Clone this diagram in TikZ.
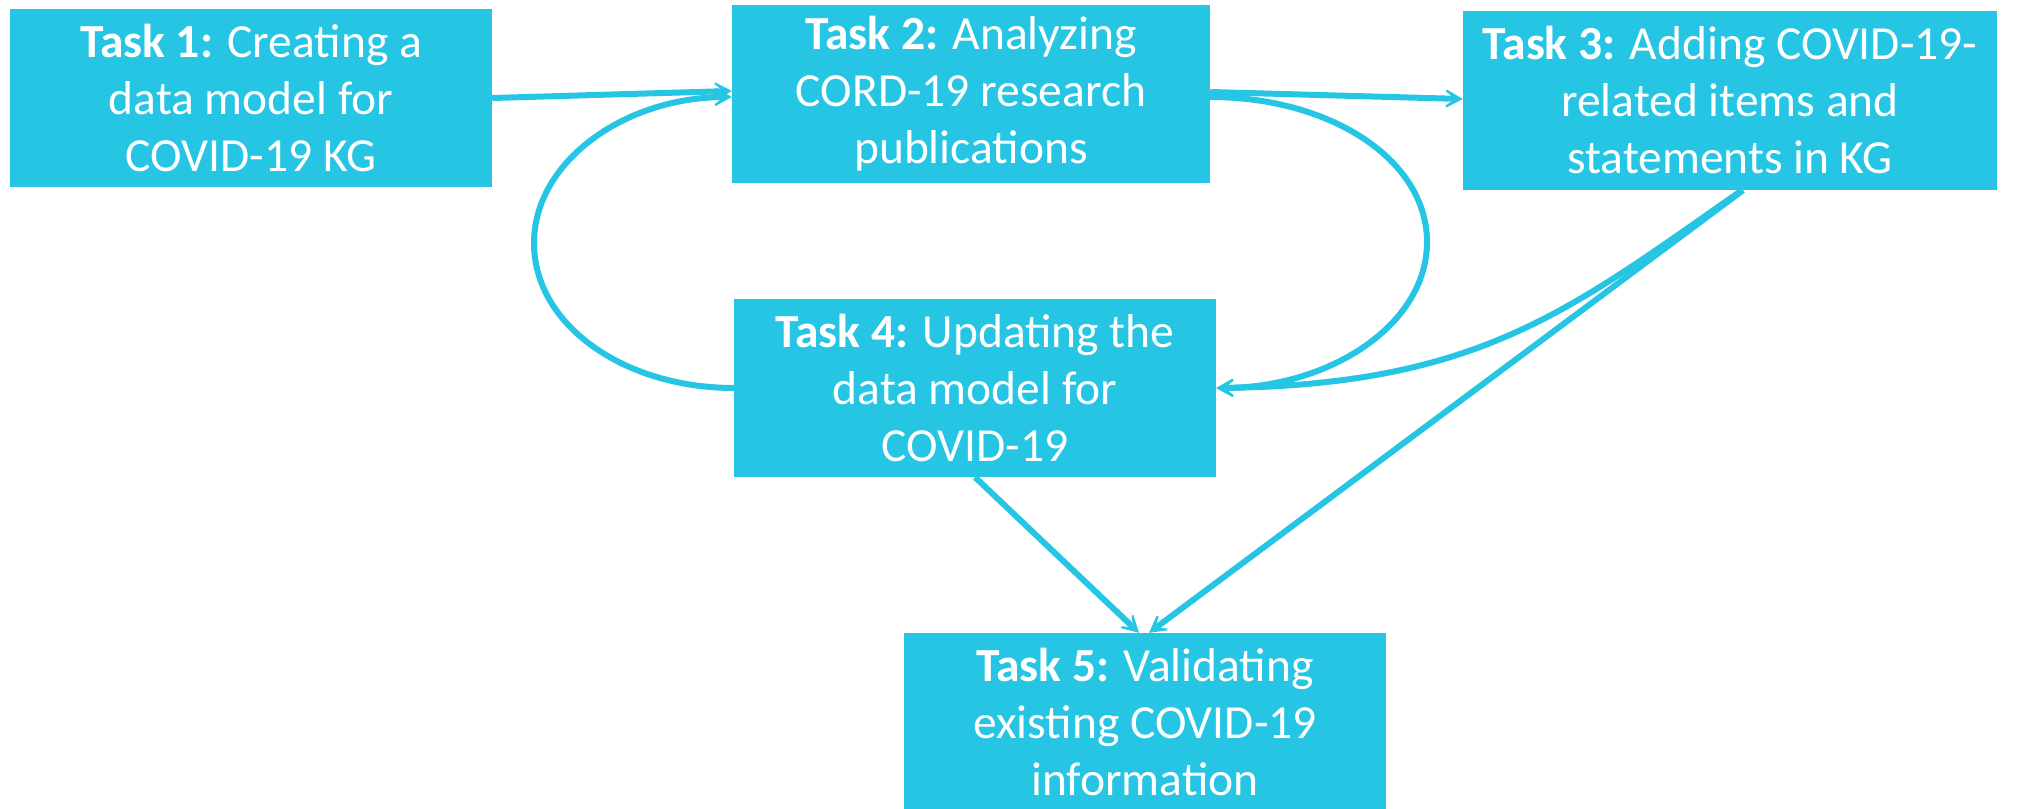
\documentclass[tikz,border=0pt]{standalone}
\usepackage{fontspec}
\setmainfont{Carlito}
\usetikzlibrary{arrows.meta,calc}
\definecolor{taskcyan}{RGB}{38,197,228}
\begin{document}
\begin{tikzpicture}[x=1pt,y=-1pt,
  taskbox/.style={rectangle,fill=taskcyan,draw=none,text=white,align=center,
    inner sep=0pt,font=\fontsize{47.5}{57}\selectfont},
  flow/.style={draw=taskcyan,line width=6pt,
    -{Stealth[length=27pt,width=30pt,inset=19pt]}}]
\useasboundingbox (0,0) rectangle (2017,808);
% task boxes
\node[taskbox,minimum width=482pt,minimum height=178pt] (t1) at (251,98)
  {\textbf{Task 1:} Creating a\\data model for\\COVID-19 KG};
\node[taskbox,minimum width=478pt,minimum height=178pt] (t2) at (971,94)
  {\textbf{Task 2:} Analyzing\\CORD-19 research\\publications};
\node[taskbox,minimum width=534pt,minimum height=179pt] (t3) at (1730,100.5)
  {\textbf{Task 3:} Adding COVID-19-\\related items and\\statements in KG};
\node[taskbox,minimum width=482pt,minimum height=178pt] (t4) at (975,388)
  {\textbf{Task 4:} Updating the\\data model for\\COVID-19};
\node[taskbox,minimum width=482pt,minimum height=178pt] (t5) at (1145,722)
  {\textbf{Task 5:} Validating\\existing COVID-19\\information};
% connectors
\draw[flow] (t1.east) -- ([yshift=3pt]t2.west);
\draw[flow] ([yshift=2pt]t2.east) -- ([yshift=1.5pt]t3.west);
\draw[flow] ([yshift=-3pt]t2.east) .. controls (1331,97) and (1427,160) ..
  (1427,242) .. controls (1427,324) and (1331,388) .. (t4.east);
\draw[flow] ([xshift=12pt]t3.south) .. controls (1570,310) and (1480,385) .. (t4.east);
\draw[flow] ([xshift=13pt]t3.south) -- ([xshift=4pt]t5.north);
\draw[flow] (t4.south) -- ([xshift=-6pt]t5.north);
\draw[flow] (t4.west) .. controls (624,388) and (534,325) ..
  (534,243) .. controls (534,162) and (624,97) .. ([yshift=-3pt]t2.west);
\end{tikzpicture}
\end{document}
